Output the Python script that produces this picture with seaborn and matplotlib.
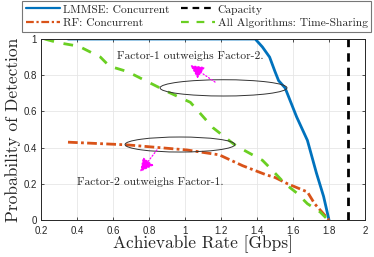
import numpy as np
import pandas as pd
import matplotlib
matplotlib.use("Agg")
import matplotlib.pyplot as plt
from matplotlib.patches import Ellipse
import seaborn as sns

# Data
lmmse_x = [0.35, 1.39, 1.43, 1.47, 1.50, 1.52, 1.556, 1.62, 1.68, 1.73, 1.77, 1.80]
lmmse_y = [1.00, 1.00, 0.956, 0.90, 0.82, 0.77, 0.73, 0.57, 0.44, 0.26, 0.13, 0.00]

rf_x = [0.35, 0.68, 1.01, 1.19, 1.32, 1.45, 1.50, 1.57, 1.68, 1.72, 1.80]
rf_y = [0.43, 0.415, 0.387, 0.36, 0.30, 0.25, 0.235, 0.20, 0.155, 0.09, 0.00]

ts_x = [0.22, 0.294, 0.41, 0.53, 0.58, 0.68, 0.90, 1.03, 1.155, 1.27, 1.32, 1.43, 1.48, 1.556, 1.62, 1.68, 1.75, 1.795]
ts_y = [1.00, 0.98, 0.96, 0.90, 0.85, 0.82, 0.71, 0.65, 0.51, 0.42, 0.39, 0.33, 0.28, 0.20, 0.15, 0.09, 0.045, 0.00]

cap_x = [1.905, 1.905]
cap_y = [0.0, 1.0]

x_ticks = [0.2, 0.4, 0.6, 0.8, 1.0, 1.2, 1.4, 1.6, 1.8, 2.0]
x_tick_labels = ["0.2", "0.4", "0.6", "0.8", "1", "1.2", "1.4", "1.6", "1.8", "2"]
y_ticks = [0, 0.2, 0.4, 0.6, 0.8, 1.0]
y_tick_labels = ["0", "0.2", "0.4", "0.6", "0.8", "1"]

sns.set_theme(style="whitegrid")
serif = "cmr10"
sans = "Liberation Sans"

fig = plt.figure(figsize=(3.74, 2.57), dpi=100)
W, H = 374, 257
ax = fig.add_axes([41 / W, 1 - 220 / H, (365 - 41) / W, (220 - 39) / H])

blue = "#0072BD"
red = "#D95319"
green = "#6ACF22"

df_l = pd.DataFrame({"x": lmmse_x, "y": lmmse_y})
df_r = pd.DataFrame({"x": rf_x, "y": rf_y})
df_t = pd.DataFrame({"x": ts_x, "y": ts_y})
df_c = pd.DataFrame({"x": cap_x, "y": cap_y})

sns.lineplot(data=df_l, x="x", y="y", ax=ax, color=blue, lw=2, sort=False,
             estimator=None, label="LMMSE: Concurrent")
sns.lineplot(data=df_r, x="x", y="y", ax=ax, color=red, lw=2, sort=False,
             estimator=None, label="RF: Concurrent")
sns.lineplot(data=df_c, x="x", y="y", ax=ax, color="black", lw=2, sort=False,
             estimator=None, label="Capacity")
sns.lineplot(data=df_t, x="x", y="y", ax=ax, color=green, lw=2, sort=False,
             estimator=None, label="All Algorithms: Time-Sharing")
lines = ax.get_lines()
lines[1].set_linestyle((0, (3.5, 1.2, 1, 1.2)))
lines[2].set_linestyle((0, (3, 2.2)))
lines[3].set_linestyle((0, (3.5, 3.5)))

ax.set_xlim(0.2, 2.0)
ax.set_ylim(0, 1)
ax.set_xticks(x_ticks)
ax.set_xticklabels(x_tick_labels, fontfamily=sans, fontsize=7)
ax.set_yticks(y_ticks)
ax.set_yticklabels(y_tick_labels, fontfamily=sans, fontsize=7)
ax.tick_params(axis="both", length=2, width=0.6, color="#333333", direction="in",
               bottom=True, left=True, top=True, right=True)
ax.tick_params(axis="x", pad=4)
ax.tick_params(axis="y", pad=3)
ax.grid(True, color="#e6e6e6", lw=0.6)
ax.set_facecolor("white")
for s in ax.spines.values():
    s.set_color("#262626")
    s.set_linewidth(0.7)

ax.set_xlabel("Achievable Rate [Gbps]", fontfamily=serif, fontsize=12.5, labelpad=0)
ax.set_ylabel("Probability of Detection", fontfamily=serif, fontsize=12.5, labelpad=2)

# ellipses
ax.add_patch(Ellipse((1.214, 0.73), 0.705, 0.09, fill=False, ec="#333333", lw=0.7, zorder=5))
ax.add_patch(Ellipse((0.972, 0.417), 0.61, 0.083, fill=False, ec="#333333", lw=0.7, zorder=5))

# arrows
ax.annotate("", xy=(1.028, 0.856), xytext=(1.167, 0.762),
            arrowprops=dict(arrowstyle="-|>,head_length=0.7,head_width=0.35", color="magenta",
                            lw=0.9, linestyle=":", shrinkA=0, shrinkB=0), zorder=6)
ax.annotate("", xy=(0.75, 0.265), xytext=(0.844, 0.387),
            arrowprops=dict(arrowstyle="-|>,head_length=0.7,head_width=0.35", color="magenta",
                            lw=0.9, linestyle=":", shrinkA=0, shrinkB=0), zorder=6)

ax.text(0.622, 0.906, "Factor-1 outweighs Factor-2.", fontfamily=serif, fontsize=8.3,
        va="center", ha="left", zorder=7)
ax.text(0.40, 0.21, "Factor-2 outweighs Factor-1.", fontfamily=serif, fontsize=8.3,
        va="center", ha="left", zorder=7)

handles, labels = ax.get_legend_handles_labels()
ax.get_legend().remove()
leg = fig.legend(handles, labels, ncol=2, loc="upper right",
                 bbox_to_anchor=(371 / W, 1 - 1 / H), borderaxespad=0,
                 prop={"family": serif, "size": 8.3}, frameon=True, fancybox=False,
                 handlelength=3.0, handletextpad=0.2, columnspacing=1.0,
                 labelspacing=0.3, borderpad=0.3)
leg.get_frame().set_edgecolor("#555555")
leg.get_frame().set_linewidth(0.8)
for l in leg.get_lines():
    l.set_linewidth(1.6)

fig.savefig("out.png", dpi=100)
